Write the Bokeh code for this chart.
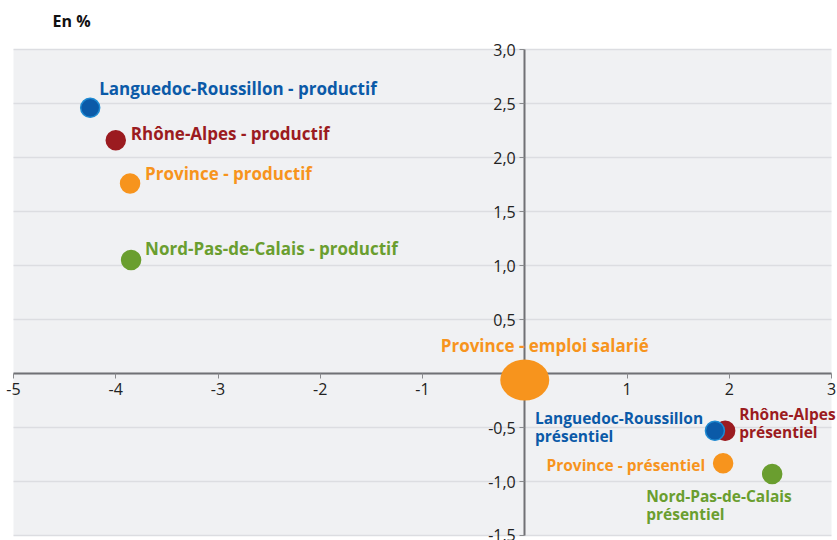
from bokeh.plotting import figure
from bokeh.models import ColumnDataSource, CustomJSTickFormatter, FixedTicker, BoxAnnotation
from bokeh.core.properties import value
from bokeh.embed import file_html
from bokeh.resources import INLINE

# ---- data ----
labels = [
    "Languedoc-Roussillon - productif",
    "Rhône-Alpes - productif",
    "Province - productif",
    "Nord-Pas-de-Calais - productif",
    "Languedoc-Roussillon\nprésentiel",
    "Rhône-Alpes\nprésentiel",
    "Province - présentiel",
    "Nord-Pas-de-Calais\nprésentiel",
]
x_vals = [-4.25, -4.00, -3.86, -3.85, 1.86, 1.96, 1.94, 2.42]
y_vals = [2.46, 2.16, 1.76, 1.05, -0.53, -0.53, -0.83, -0.93]

total_label = ["Province - emploi salarié"]
total_x = [0.0]
total_y = [-0.06]

x_ticks = [-5, -4, -3, -2, -1, 0, 1, 2, 3]
y_ticks = [-1.5, -1.0, -0.5, 0.0, 0.5, 1.0, 1.5, 2.0, 2.5, 3.0]
X_MIN, X_MAX = -5, 3
Y_MIN, Y_MAX = -1.5, 3.0

# ---- styles ----
BLUE, RED, ORANGE, GREEN = "#0b5aa8", "#9b1b20", "#f7941d", "#6a9e2f"
colors = [BLUE, RED, ORANGE, GREEN, BLUE, RED, ORANGE, GREEN]
outlines = ["#1e8ad2", RED, ORANGE, GREEN, "#1e8ad2", RED, ORANGE, GREEN]
dx = [9, 15, 15, 14, -180, 14, -18, -126]
dy = [-19, -7, -10, -12, -4, -8, 2, 31]
align = ["left", "left", "left", "left", "left", "left", "right", "left"]
fsize = ["17px"] * 4 + ["15.5px"] * 4
# draw order: RA présentiel under LR présentiel
order = [0, 1, 2, 3, 5, 4, 6, 7]

FONT = "Open Sans"
PX_X = 818 / (X_MAX - X_MIN)     # pixels per x unit
PX_Y = 486 / (Y_MAX - Y_MIN)     # pixels per y unit

src = ColumnDataSource(dict(
    x=[x_vals[i] for i in order], y=[y_vals[i] for i in order],
    c=[colors[i] for i in order], oc=[outlines[i] for i in order],
))
lsrc = ColumnDataSource(dict(
    x=x_vals, y=y_vals, t=labels, c=colors, dx=dx, dy=dy, a=align, fs=fsize,
))

# frame is a bit larger than the grey plotting area so that the
# axis labels at the ends are not clipped
pad_l, pad_r, pad_t, pad_b = 9, 6, 11, 5
p = figure(
    width=837, height=540,
    x_range=(X_MIN - pad_l / PX_X, X_MAX + pad_r / PX_X),
    y_range=(Y_MIN - pad_b / PX_Y, Y_MAX + pad_t / PX_Y),
    frame_width=818 + pad_l + pad_r, frame_height=486 + pad_t + pad_b,
    output_backend="svg", toolbar_location=None,
    min_border_left=13 - pad_l, min_border_right=0,
    min_border_top=49 - pad_t, min_border_bottom=0,
    title="En %",
)
p.title.text_font = FONT
p.title.text_font_size = "16px"
p.title.text_font_style = "bold"
p.title.text_color = "#111111"
p.title.align = "left"
p.title.offset = 48
p.title.standoff = 13

p.background_fill_color = "white"
p.border_fill_color = "white"
p.outline_line_color = None

p.add_layout(BoxAnnotation(left=X_MIN, right=X_MAX, bottom=Y_MIN, top=Y_MAX,
                           fill_color="#f0f1f3", fill_alpha=1, line_color=None,
                           level="image"))

p.xgrid.grid_line_color = None
if "cross_bounds" in p.ygrid[0].properties():
    p.ygrid.ticker = FixedTicker(ticks=y_ticks)
    p.ygrid.cross_bounds = (X_MIN, X_MAX)
    p.ygrid.grid_line_color = "#dcdde1"
    p.ygrid.grid_line_width = 1.5
else:
    p.ygrid.grid_line_color = None
    p.segment(x0=[X_MIN] * len(y_ticks), x1=[X_MAX] * len(y_ticks),
              y0=y_ticks, y1=y_ticks, line_color="#dcdde1", line_width=1.5,
              level="underlay")

fmt_x = CustomJSTickFormatter(code="return tick == 0 ? '' : String(tick);")
fmt_y = CustomJSTickFormatter(code="return tick == 0 ? '' : tick.toFixed(1).replace('.', ',');")

for ax, tk, fm, bd in ((p.xaxis[0], x_ticks, fmt_x, (X_MIN, X_MAX)),
                       (p.yaxis[0], y_ticks, fmt_y, (Y_MIN, Y_MAX))):
    ax.ticker = FixedTicker(ticks=tk)
    ax.formatter = fm
    ax.bounds = bd
    ax.fixed_location = 0
    ax.axis_line_color = "#707175"
    ax.axis_line_width = 2
    ax.major_tick_line_color = "#8a8b8e"
    ax.major_tick_out = 5
    ax.major_tick_in = 0
    ax.minor_tick_line_color = None
    ax.major_label_text_font = FONT
    ax.major_label_text_font_size = "16px"
    ax.major_label_text_color = "#222222"
    ax.major_label_standoff = 4

p.scatter("x", "y", source=src, size=19, fill_color="c", line_color="oc",
          line_width=1.5, level="overlay")

p.ellipse(total_x, total_y, width=49, height=41, width_units="screen",
          height_units="screen", fill_color=ORANGE, line_color=None, level="overlay")

p.text("x", "y", text="t", source=lsrc, x_offset="dx", y_offset="dy",
       text_align="a", text_baseline="middle", text_color="c",
       text_font=value(FONT), text_font_style="bold", text_font_size="fs",
       text_line_height=0.82, level="overlay")

p.text(total_x, total_y, text=total_label, x_offset=20, y_offset=-34,
       text_align="center", text_baseline="middle", text_color=ORANGE,
       text_font=value(FONT), text_font_style="bold", text_font_size="17px",
       level="overlay")

open("out.html", "w").write(file_html(p, INLINE))
